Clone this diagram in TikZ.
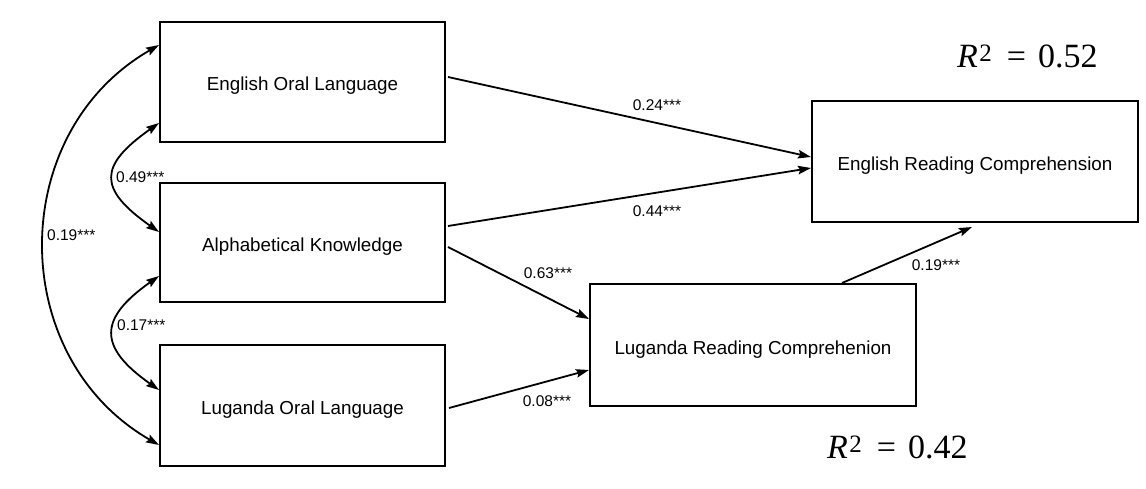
\documentclass[tikz,border=0pt]{standalone}
\usepackage[no-math]{fontspec}
\setmainfont{Liberation Sans}
\newfontfamily\rsqfont{Liberation Serif}
\usetikzlibrary{arrows.meta,calc}
\tikzset{
  var/.style={draw, line width=2pt, minimum width=285pt, minimum height=120pt,
    inner sep=0pt, text height=18pt, text depth=0pt,
    font=\fontsize{18.8}{22}\selectfont},
  regpath/.style={line width=1.8pt, -{Stealth[length=13pt,width=8.5pt,inset=2pt]}},
  covpath/.style={line width=1.8pt,
    {Stealth[length=13pt,width=8.5pt,inset=2pt]}-{Stealth[length=13pt,width=8.5pt,inset=2pt]}},
  coef/.style={inner sep=0pt, font=\fontsize{15.5}{18}\selectfont},
  rsq/.style={inner sep=0pt, anchor=base west, font=\rsqfont\fontsize{34}{40}\selectfont}
}
% R squared: italic R, raised 2, equals sign and value
\newcommand\rsqtext[1]{\textit{R}\kern1.5pt\raisebox{6pt}{\fontsize{25}{25}\selectfont 2}\hspace{15pt}=\hspace{12pt}#1}
\begin{document}
\begin{tikzpicture}[x=1pt,y=-1pt]
\useasboundingbox (0,0) rectangle (1146,489);

% observed variables
\node[var] (eol) at (302.5,82)    {English Oral Language};
\node[var, minimum height=119pt] (ak) at (302.5,242.5) {Alphabetical Knowledge};
\node[var, minimum height=121pt] (lol) at (302.5,405.5) {Luganda Oral Language};
\node[var, minimum width=326pt, minimum height=121pt] (erc) at (975,161.5) {English Reading Comprehension};
\node[var, minimum width=326pt, minimum height=122pt] (lrc) at (753,345) {Luganda Reading Comprehenion};

% correlations among predictors
\draw[covpath] ($(eol.west)+(0,-37)$) .. controls (6,133) and (6,357) .. ($(lol.west)+(0,39.5)$);
\draw[covpath] ($(eol.west)+(0,41)$) .. controls (98,166) and (98,189) .. ($(ak.west)+(0,-10.5)$);
\draw[covpath] ($(ak.west)+(0,33.5)$) .. controls (98,319) and (98,347) .. ($(lol.west)+(0,-15.5)$);

\node[coef, anchor=west] (r49) at (116,177) {0.49***};
\node[coef, anchor=west] (r19) at (47,235)  {0.19***};
\node[coef, anchor=west] (r17) at (117,325) {0.17***};

% structural paths
\draw[regpath] ($(eol.east)+(2,-5)$)   -- ($(erc.west)+(0,-4.5)$);
\draw[regpath] ($(ak.east)+(2,-16.5)$) -- ($(erc.west)+(0,6.5)$);
\draw[regpath] ($(ak.east)+(2,4.5)$)   -- ($(lrc.west)+(0,-26)$);
\draw[regpath] ($(lol.east)+(3,2.5)$)  -- ($(lrc.west)+(0,25)$);
\draw[regpath] ($(lrc.north)+(89,0)$)  -- ($(erc.south)+(-3,4)$);

\node[coef] (b24) at (657,105) {0.24***};
\node[coef] (b44) at (657,211) {0.44***};
\node[coef] (b63) at (548,273) {0.63***};
\node[coef] (b08) at (547,401) {0.08***};
\node[coef] (b19) at (936,265) {0.19***};

% explained variance
\node[rsq] (rsqe) at (957,68)  {\rsqtext{0.52}};
\node[rsq] (rsql) at (827,458) {\rsqtext{0.42}};
\end{tikzpicture}
\end{document}
